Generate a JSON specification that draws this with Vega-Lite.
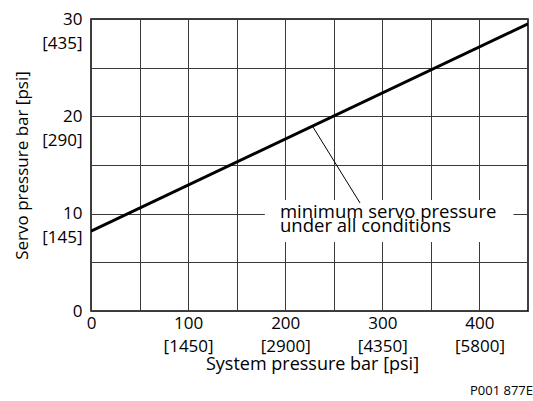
{
  "$schema": "https://vega.github.io/schema/vega-lite/v6.json",
  "width": 437,
  "height": 292,
  "autosize": "none",
  "padding": {"left": 91, "top": 19, "right": 5, "bottom": 90},
  "background": "white",
  "config": {
    "font": "Open Sans",
    "view": {"stroke": "black", "strokeWidth": 1.5},
    "axis": {
      "domain": false,
      "ticks": false,
      "grid": true,
      "gridColor": "#3a3a3a",
      "gridWidth": 1,
      "gridOpacity": 1,
      "labelFontSize": 17,
      "labelColor": "black",
      "labelFlush": false,
      "titleFontSize": 17,
      "titleFontWeight": "normal",
      "titleColor": "black",
      "labelLineHeight": 23
    }
  },
  "title": {
    "text": "P001 877E",
    "orient": "bottom",
    "anchor": "end",
    "fontSize": 13,
    "fontWeight": "normal",
    "color": "black",
    "offset": 12,
    "dx": 5
  },
  "encoding": {
    "x": {
      "field": "x",
      "type": "quantitative",
      "scale": {"domain": [0, 450], "nice": false, "zero": false},
      "axis": {
        "values": [0, 50, 100, 150, 200, 250, 300, 350, 400],
        "labelExpr": "datum.value % 100 != 0 ? '' : datum.value == 0 ? '0' : [datum.label, '[' + (datum.value * 14.5) + ']']",
        "labelPadding": 4,
        "labelBaseline": "top",
        "title": "System pressure bar [psi]",
        "titleFontSize": 18,
        "titleX": 221,
        "titleY": 53,
        "titleBaseline": "middle",
        "titleAlign": "center"
      }
    },
    "y": {
      "field": "y",
      "type": "quantitative",
      "scale": {"domain": [0, 30], "nice": false, "zero": false},
      "axis": {
        "values": [0, 5, 10, 15, 20, 25, 30],
        "labelExpr": "datum.value % 10 != 0 ? '' : datum.value == 0 ? '0' : [datum.label, '[' + (datum.value * 14.5) + ']']",
        "labelPadding": 9,
        "labelBaseline": "middle",
        "labelLineHeight": 24,
        "title": "Servo pressure bar [psi]",
        "titleX": -69,
        "titleY": 146,
        "titleAngle": -90,
        "titleBaseline": "middle",
        "titleAlign": "center"
      }
    }
  },
  "layer": [
    {
      "data": {"values": [{"x": 179, "xe": 435, "y": 7.1, "ye": 11.4}]},
      "mark": {"type": "rect", "fill": "white", "stroke": null},
      "encoding": {"x2": {"field": "xe"}, "y2": {"field": "ye"}}
    },
    {
      "data": {"values": [{"x": 0, "y": 8.2}, {"x": 450, "y": 29.5}]},
      "mark": {"type": "line", "color": "black", "strokeWidth": 3, "clip": true},
      "encoding": {}
    },
    {
      "data": {"values": [{"x": 228, "xe": 277, "y": 19.0, "ye": 11.1}]},
      "mark": {"type": "rule", "color": "black", "strokeWidth": 1},
      "encoding": {"x2": {"field": "xe"}, "y2": {"field": "ye"}}
    },
    {
      "data": {"values": [{"x": 194.6, "y": 9.55, "label": ["minimum servo pressure", "under all conditions"]}]},
      "mark": {"type": "text", "align": "left", "baseline": "alphabetic", "fontSize": 18.5, "lineHeight": 14, "color": "black"},
      "encoding": {"text": {"field": "label"}}
    }
  ]
}
